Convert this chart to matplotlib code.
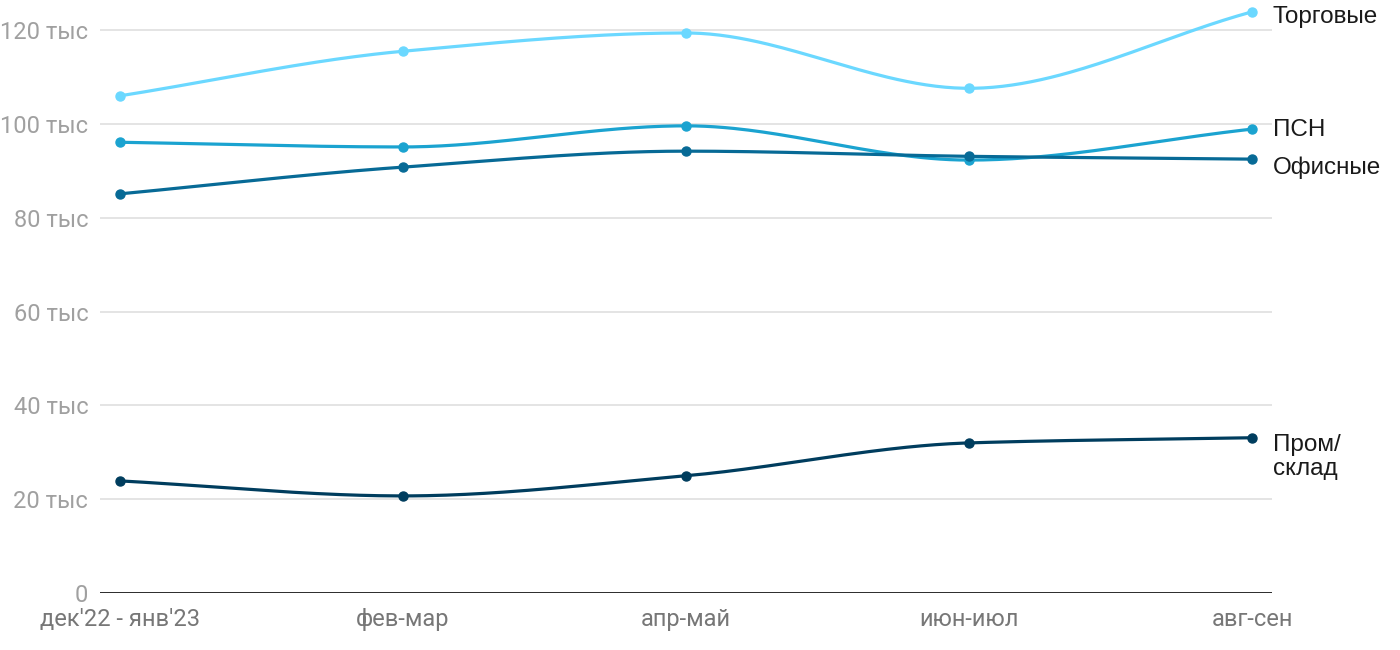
import numpy as np
import matplotlib
matplotlib.use("Agg")
import matplotlib.pyplot as plt

# periods and values (thousands)
periods = ["дек'22 - янв'23", "фев-мар", "апр-май", "июн-июл", "авг-сен"]
torg = [106.0, 115.5, 119.4, 107.6, 123.9]
psn = [96.1, 95.1, 99.6, 92.3, 98.9]
ofis = [85.1, 90.8, 94.2, 93.1, 92.5]
prom = [23.9, 20.7, 25.0, 32.0, 33.1]

names = ["Торговые", "ПСН", "Офисные", "Пром/\nсклад"]
colors = ["#6bd8ff", "#1ba3d0", "#076a96", "#003d5e"]
yticks = [0, 20, 40, 60, 80, 100, 120]
ytick_labels = ["0", "20 тыс", "40 тыс", "60 тыс", "80 тыс", "100 тыс", "120 тыс"]


def monotone_curve(x, y, n=60):
    """Monotone cubic (Fritsch-Carlson) curve through the points."""
    x = np.asarray(x, float)
    y = np.asarray(y, float)
    h = np.diff(x)
    d = np.diff(y) / h
    m = np.zeros_like(y)
    m[0], m[-1] = d[0], d[-1]
    for i in range(1, len(y) - 1):
        if d[i - 1] * d[i] <= 0:
            m[i] = 0
        else:
            m[i] = 2 / (1 / d[i - 1] + 1 / d[i])
    xs, ys = [], []
    for i in range(len(h)):
        t = np.linspace(0, 1, n)
        h00 = 2 * t**3 - 3 * t**2 + 1
        h10 = t**3 - 2 * t**2 + t
        h01 = -2 * t**3 + 3 * t**2
        h11 = t**3 - t**2
        xs.append(x[i] + t * h[i])
        ys.append(h00 * y[i] + h10 * h[i] * m[i] + h01 * y[i + 1] + h11 * h[i] * m[i + 1])
    return np.concatenate(xs), np.concatenate(ys)


fig = plt.figure(figsize=(14, 6.5), dpi=100)
ax = fig.add_axes([100 / 1400, 1 - 593 / 650, 1172 / 1400, 586.3 / 650])

xpos = np.arange(len(periods))
for vals, name, col in zip([torg, psn, ofis, prom], names, colors):
    cx, cy = monotone_curve(xpos, vals)
    ax.plot(cx, cy, color=col, lw=2.3, solid_capstyle="round", zorder=3, clip_on=False)
    ax.plot(xpos, vals, "o", color=col, ms=6.5, zorder=4, clip_on=False)

# end labels, placed just right of the plot area
label_y = [122.8, 98.7, 90.6, 29.0]
for name, ly in zip(names, label_y):
    ax.text(4.0707 + 0.003, ly, name, fontsize=17.5, family="Liberation Sans",
            color="#1a1a1a", va="center", ha="left", linespacing=1.15)

ax.set_xlim(-0.0707, 4.0707)
ax.set_ylim(0, 125)
ax.set_yticks(yticks)
ax.set_yticklabels(ytick_labels, family="Roboto", fontsize=17, color="#a0a0a0")
ax.set_xticks(xpos)
ax.set_xticklabels(periods, family="Roboto", fontsize=17, color="#777777")
ax.tick_params(length=0)
ax.tick_params(axis="y", pad=8.5)
ax.tick_params(axis="x", pad=11)
for sp in ax.spines.values():
    sp.set_visible(False)
ax.grid(axis="y", color="#e2e2e2", lw=1.3, zorder=0)
ax.axhline(0, color="#1a1a1a", lw=2, zorder=2)

fig.savefig("out.png", dpi=100)
